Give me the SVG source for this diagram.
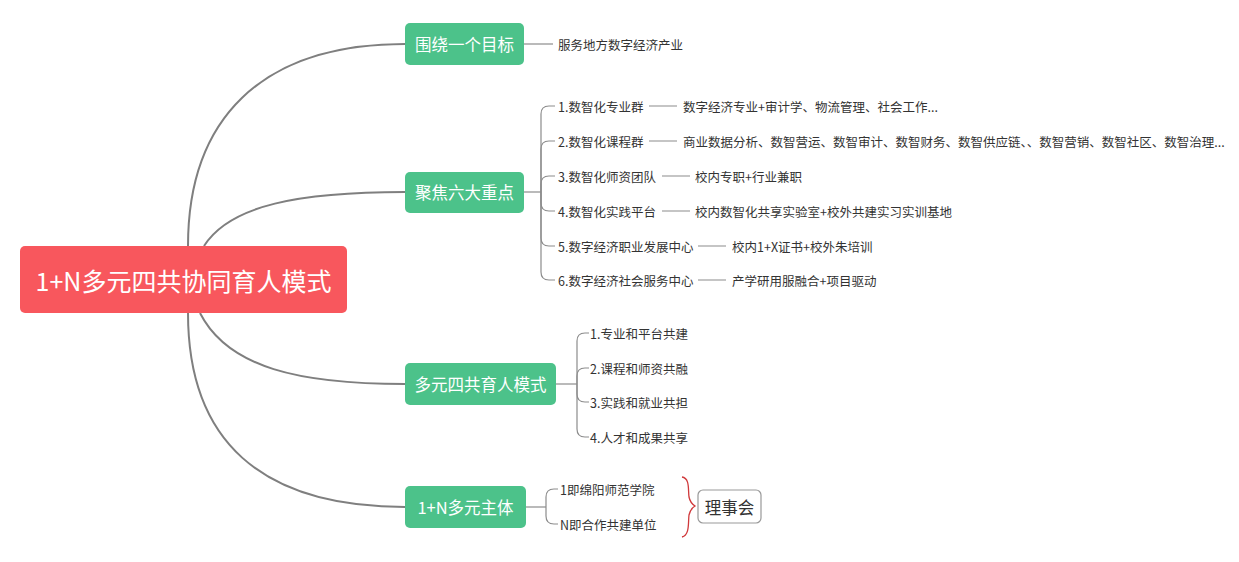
<svg xmlns="http://www.w3.org/2000/svg" width="1239" height="562" viewBox="0 0 1239 562">
<style>
text{font-family:"Noto Sans CJK SC","Liberation Sans",sans-serif;dominant-baseline:central}
.root{fill:#f8575d}
.main{fill:#4cc28a}
.mt{fill:#fff;font-size:16.5px}
.rt{fill:#fff;font-size:25px}
.leaf{fill:#333;font-size:12.5px}
.c1{fill:none;stroke:#7f7f7f;stroke-width:2}
.c2{fill:none;stroke:#8c8c8c;stroke-width:1.2}
</style>
<rect width="1239" height="562" fill="#fff"/>
<g id="connectors">
<path class="c1" d="M188,246 C188,120 260,44 405,44"/>
<path class="c1" d="M204,246 C230,205 300,192 405,192"/>
<path class="c1" d="M200,313 C228,368 300,384 405,384"/>
<path class="c1" d="M188,313 C188,440 260,507 405,507"/>
<path class="c2" d="M524,44 H553"/>
<path class="c2" d="M524,192 H541"/>
<path class="c2" d="M541,192 V114 Q541,106 549,106 H555"/>
<path class="c2" d="M541,192 V149 Q541,141 549,141 H555"/>
<path class="c2" d="M541,192 V184 Q541,176 549,176 H555"/>
<path class="c2" d="M541,192 V203 Q541,211 549,211 H555"/>
<path class="c2" d="M541,192 V238 Q541,246 549,246 H555"/>
<path class="c2" d="M541,192 V272 Q541,280 549,280 H555"/>
<path class="c2" d="M649,106 H677 M649,141 H677 M662,176 H690 M662,211 H690 M698,246 H726 M698,280 H726"/>
<path class="c2" d="M556,384 H577"/>
<path class="c2" d="M577,384 V341 Q577,333 585,333 H589"/>
<path class="c2" d="M577,384 V376 Q577,368 585,368 H589"/>
<path class="c2" d="M577,384 V394 Q577,402 585,402 H589"/>
<path class="c2" d="M577,384 V429 Q577,437 585,437 H589"/>
<path class="c2" d="M526,507 H546"/>
<path class="c2" d="M546,507 V497 Q546,489 554,489 H558"/>
<path class="c2" d="M546,507 V516 Q546,524 554,524 H558"/>
<path fill="none" stroke="#d0393b" stroke-width="1.3" d="M682,477 C690,478 688,490 689,497 C690,502 692,504 695,506 C692,508 690,510 689,515 C688,522 690,535 682,537"/>
</g>
<g id="root">
<rect class="root" x="20" y="246" width="327" height="67" rx="5"/>
<text class="rt" x="183.5" y="280" text-anchor="middle">1+N多元四共协同育人模式</text>
</g>
<g id="goal">
<rect class="main" x="405" y="23" width="119" height="42" rx="5"/>
<text class="mt" x="464.5" y="44" text-anchor="middle">围绕一个目标</text>
<text class="leaf" x="558" y="44">服务地方数字经济产业</text>
</g>
<g id="focus">
<rect class="main" x="405" y="172" width="119" height="41" rx="5"/>
<text class="mt" x="464.5" y="192" text-anchor="middle">聚焦六大重点</text>
<text class="leaf" x="558" y="106">1.数智化专业群</text>
<text class="leaf" x="683" y="106">数字经济专业+审计学、物流管理、社会工作...</text>
<text class="leaf" x="558" y="141">2.数智化课程群</text>
<text class="leaf" x="683" y="141">商业数据分析、数智营运、数智审计、数智财务、数智供应链、、数智营销、数智社区、数智治理...</text>
<text class="leaf" x="558" y="176">3.数智化师资团队</text>
<text class="leaf" x="695" y="176">校内专职+行业兼职</text>
<text class="leaf" x="558" y="211">4.数智化实践平台</text>
<text class="leaf" x="695" y="211">校内数智化共享实验室+校外共建实习实训基地</text>
<text class="leaf" x="558" y="246">5.数字经济职业发展中心</text>
<text class="leaf" x="732" y="246">校内1+X证书+校外朱培训</text>
<text class="leaf" x="558" y="280">6.数字经济社会服务中心</text>
<text class="leaf" x="732" y="280">产学研用服融合+项目驱动</text>
</g>
<g id="mode">
<rect class="main" x="405" y="363" width="151" height="42" rx="5"/>
<text class="mt" x="480.5" y="384" text-anchor="middle">多元四共育人模式</text>
<text class="leaf" x="590" y="333">1.专业和平台共建</text>
<text class="leaf" x="590" y="368">2.课程和师资共融</text>
<text class="leaf" x="590" y="402">3.实践和就业共担</text>
<text class="leaf" x="590" y="437">4.人才和成果共享</text>
</g>
<g id="subject">
<rect class="main" x="405" y="486" width="121" height="42" rx="5"/>
<text class="mt" x="465.5" y="507" text-anchor="middle">1+N多元主体</text>
<text class="leaf" x="560" y="489">1即绵阳师范学院</text>
<text class="leaf" x="560" y="524">N即合作共建单位</text>
</g>
<g id="council">
<rect x="698" y="490" width="63" height="33" rx="5" fill="#fff" stroke="#999" stroke-width="1.2"/>
<text x="729.5" y="507" text-anchor="middle" fill="#333" font-size="16.5px">理事会</text>
</g>
</svg>
